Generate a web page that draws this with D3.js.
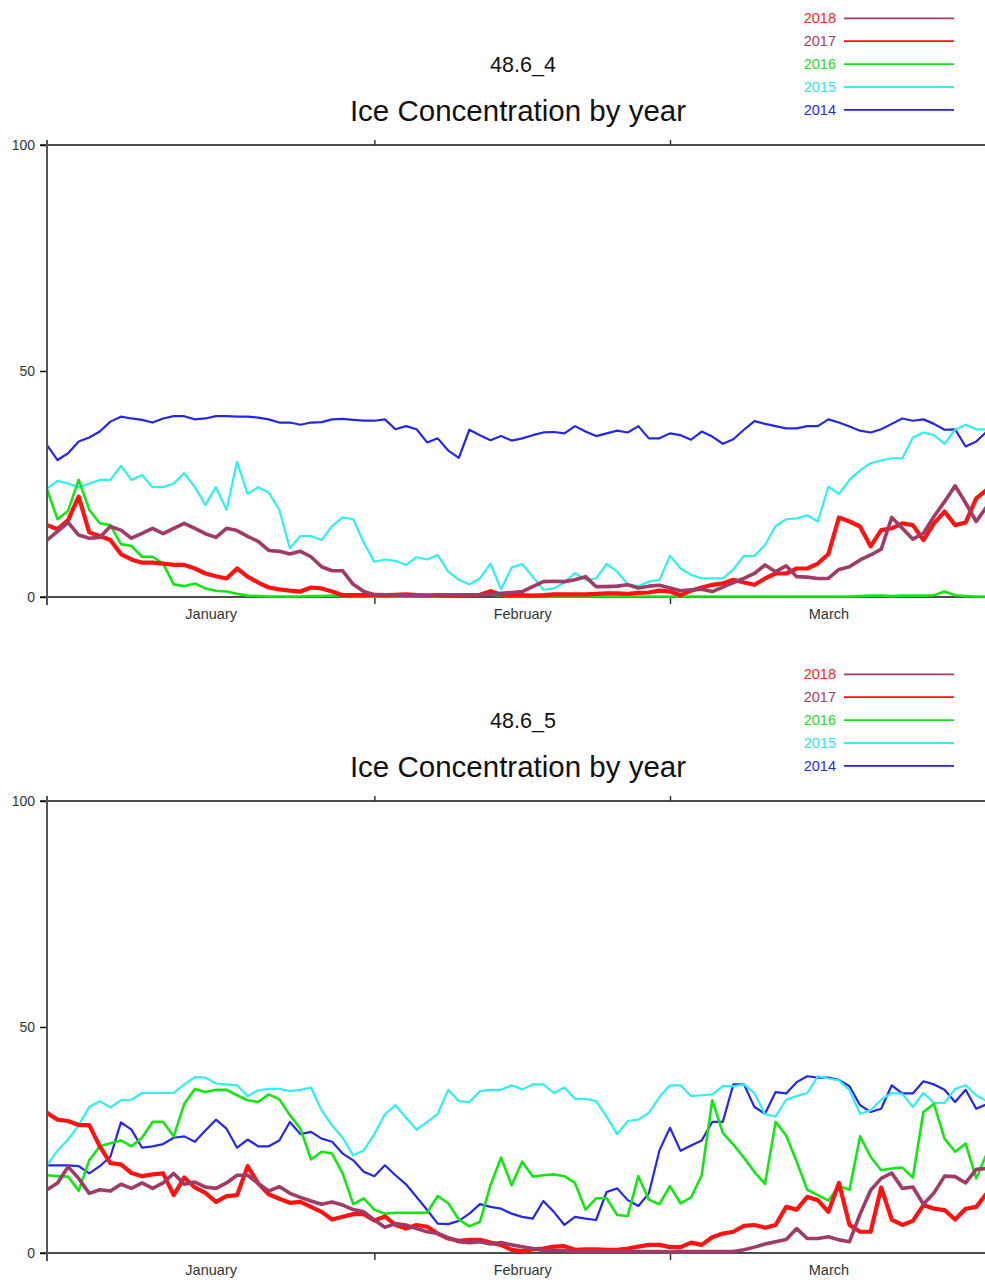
<!DOCTYPE html>
<html>
<head>
<meta charset="utf-8">
<script src="https://cdn.jsdelivr.net/npm/d3@7/dist/d3.min.js"></script>
<style>
  html, body { margin: 0; padding: 0; background: #fff; }
  svg { display: block; font-family: "Liberation Sans", Arial, sans-serif; }
</style>
</head>
<body>
<svg id="chart" width="985" height="1284"></svg>
<script>
// Daily ice concentration (%) for Jan 1 .. Mar 31, one value per day.
const years = [2018, 2017, 2016, 2015, 2014];
const monthNames = ["January", "February", "March"];
const monthStarts = [31, 59];          // day index of Feb 1 and Mar 1
const monthMids = [15.5, 45, 74];      // label positions (day index)
const yTicks = [0, 50, 100];

// ---- 48.6_4 ----
const area4_2014 = [33.6,30.3,31.8,34.4,35.3,36.6,38.8,39.9,39.5,39.2,
  38.6,39.5,40.0,40.0,39.3,39.5,40.0,40.0,39.9,39.9,
  39.7,39.3,38.6,38.6,38.1,38.6,38.7,39.3,39.4,39.2,
  39.0,39.0,39.3,37.1,37.8,37.1,34.2,35.1,32.4,30.8,
  37.0,35.8,34.7,35.6,34.6,35.1,35.8,36.4,36.5,36.2,
  37.8,36.6,35.6,36.2,36.8,36.4,37.8,35.1,35.1,36.2,
  35.8,34.8,36.6,35.5,33.9,34.9,37.0,38.9,38.3,37.8,
  37.3,37.3,37.8,37.8,39.3,38.6,37.7,36.8,36.4,37.1,
  38.3,39.5,39.0,39.3,38.3,37.0,37.1,33.3,34.4,36.6];
const area4_2015 = [24.0,25.7,25.1,24.3,25.1,25.9,25.9,29.0,25.9,27.0,
  24.3,24.3,25.1,27.4,24.3,20.4,24.3,19.3,29.9,22.8,
  24.3,23.1,19.3,10.8,13.5,13.5,12.6,15.7,17.6,17.2,
  12.0,7.8,8.3,8.0,7.1,8.8,8.3,9.3,5.6,3.8,
  2.8,4.1,7.4,1.7,6.5,7.3,4.5,1.6,1.9,3.2,
  5.3,3.8,4.1,7.3,5.6,2.8,2.4,3.4,3.8,9.1,
  6.3,4.9,4.1,4.1,4.1,6.1,9.1,9.1,11.5,15.7,
  17.2,17.4,18.1,16.7,24.4,22.8,25.9,28.0,29.6,30.2,
  30.7,30.7,35.3,36.4,35.8,33.9,37.0,38.1,37.1,37.1];
const area4_2016 = [23.8,17.2,19.1,25.9,19.3,16.3,15.9,11.7,11.3,8.9,
  8.9,7.4,2.8,2.4,3.0,1.9,1.4,1.2,0.7,0.3,
  0.2,0.1,0.1,0.1,0.1,0.2,0.2,0.3,0.2,0.1,
  0.1,0.1,0.1,0.1,0.1,0.1,0.1,0.1,0.1,0.2,
  0.3,0.5,0.6,0.3,0.1,0.1,0.1,0.1,0.1,0.1,
  0.1,0.1,0.1,0.1,0.1,0.1,0.1,0.1,0.1,0.1,
  0.1,0.1,0.1,0.1,0.1,0.1,0.1,0.1,0.1,0.1,
  0.1,0.1,0.1,0.1,0.1,0.1,0.1,0.2,0.3,0.3,
  0.2,0.3,0.3,0.3,0.4,1.2,0.4,0.2,0.1,0.1];
const area4_2017 = [15.9,15.0,17.0,22.2,14.3,13.5,12.6,9.5,8.3,7.6,
  7.6,7.4,7.1,7.1,6.3,5.2,4.6,4.1,6.3,4.5,
  3.2,2.1,1.7,1.4,1.2,2.1,1.9,1.2,0.4,0.4,
  0.4,0.5,0.4,0.5,0.6,0.4,0.3,0.4,0.3,0.3,
  0.4,0.5,1.3,0.5,0.4,0.4,0.3,0.4,0.6,0.6,
  0.6,0.6,0.7,0.8,0.8,0.7,0.9,1.0,1.4,1.2,
  0.4,1.4,2.1,2.7,3.0,3.8,3.2,2.7,4.1,5.2,
  5.2,6.3,6.3,7.4,9.5,17.6,16.7,15.6,11.2,14.8,
  15.2,16.3,15.9,12.6,16.3,18.9,15.9,16.5,21.8,23.7];
const area4_2018 = [12.6,14.5,16.5,13.7,13.0,13.2,15.6,14.8,13.0,14.1,
  15.2,14.0,15.2,16.3,15.2,14.0,13.2,15.2,14.7,13.4,
  12.3,10.3,10.1,9.5,10.1,8.9,6.7,5.8,5.8,2.8,
  1.2,0.5,0.5,0.4,0.4,0.4,0.4,0.4,0.5,0.5,
  0.5,0.5,0.6,0.8,1.0,1.2,2.3,3.4,3.5,3.4,
  3.8,4.5,2.3,2.3,2.4,2.7,2.0,2.4,2.6,2.0,
  1.4,1.6,1.7,1.2,2.2,3.2,4.1,5.2,7.1,5.6,
  6.9,4.5,4.4,4.1,4.1,6.1,6.7,8.2,9.3,10.6,
  17.6,15.2,12.8,14.1,17.8,21.1,24.6,20.8,16.7,20.0];

// ---- 48.6_5 ----
const area5_2014 = [19.4,19.4,19.4,19.2,17.6,19.2,21.3,28.9,27.3,23.3,
  23.6,24.1,25.5,25.8,24.6,27.1,29.5,27.5,23.3,25.1,
  23.6,23.6,24.9,29.0,26.3,26.8,25.3,24.6,22.0,20.5,
  18.0,17.0,19.4,17.2,15.2,12.4,9.5,6.5,6.4,7.1,
  8.7,10.8,10.2,9.8,8.7,8.0,7.6,11.5,9.1,6.2,
  8.0,7.6,7.3,13.5,14.3,11.7,10.4,13.2,22.7,27.7,
  22.6,23.8,24.9,29.0,29.0,37.3,37.3,32.3,30.8,35.6,
  35.3,37.8,39.1,38.8,38.8,38.3,36.9,32.7,31.2,31.9,
  37.1,35.3,35.3,38.0,37.3,36.1,33.4,36.1,31.9,32.9];
const area5_2015 = [19.4,22.7,25.1,28.3,32.3,33.6,32.2,33.8,33.9,35.4,
  35.4,35.4,35.4,37.3,38.9,38.8,37.5,37.3,37.1,34.7,
  36.0,36.3,36.3,35.8,36.1,36.6,31.6,28.2,25.5,21.6,
  22.7,26.3,30.7,32.7,29.9,27.3,29.0,30.8,36.1,33.6,
  33.4,35.8,36.1,36.1,37.1,36.2,37.3,37.3,35.4,36.6,
  34.1,34.1,33.6,30.1,26.3,29.2,29.5,31.0,34.5,37.1,
  37.1,34.7,34.9,35.1,36.9,36.9,37.3,35.3,30.7,30.2,
  33.9,34.7,35.4,39.1,38.6,38.2,36.0,30.8,31.6,33.9,
  35.4,35.2,32.3,35.4,33.2,33.2,36.3,37.1,34.9,33.6];
const area5_2016 = [17.2,17.0,16.9,13.8,20.5,23.6,24.3,24.9,23.6,25.5,
  29.0,29.0,25.8,33.0,36.3,35.6,36.1,36.1,34.9,33.8,
  33.4,35.1,34.0,30.5,27.5,20.7,22.4,22.0,17.6,10.8,
  12.1,9.6,8.7,8.9,8.9,8.9,8.9,12.6,11.0,7.4,
  5.9,6.9,15.0,21.1,15.0,20.2,16.9,17.2,17.4,17.0,
  15.5,9.6,12.1,12.1,8.4,8.2,17.0,11.8,10.8,14.8,
  11.0,12.3,17.2,33.8,26.6,24.0,21.1,17.9,15.3,29.0,
  26.0,20.2,14.0,12.8,11.6,14.8,14.0,25.8,21.3,18.3,
  18.7,18.9,16.7,31.2,33.0,25.3,22.4,24.2,16.5,22.0];
const area5_2017 = [31.0,29.5,29.2,28.3,28.3,23.6,19.9,19.6,17.7,17.0,
  17.4,17.6,12.8,16.7,14.5,13.3,11.3,12.6,12.8,19.2,
  15.4,13.0,12.0,11.1,11.3,10.2,9.1,7.4,8.0,8.6,
  8.6,7.2,8.1,6.2,5.4,6.2,5.8,4.3,3.2,2.7,
  2.9,2.9,2.3,1.8,0.7,0.4,0.8,1.0,1.4,1.5,
  0.7,0.8,0.8,0.7,0.7,1.0,1.4,1.8,1.8,1.3,
  1.3,2.3,1.8,3.5,4.3,4.7,6.0,6.2,5.6,6.2,
  10.2,9.6,12.4,11.7,9.1,15.5,6.2,4.7,4.7,14.5,
  7.4,6.2,7.1,10.6,9.8,9.5,7.4,9.8,10.2,13.2];
const area5_2018 = [14.0,15.5,19.1,16.5,13.2,14.0,13.7,15.2,14.3,15.5,
  14.3,15.5,17.6,15.2,15.7,14.6,14.3,15.5,17.2,17.2,
  15.4,13.7,14.7,13.2,12.3,11.5,10.8,11.3,10.6,9.6,
  9.1,7.3,5.7,6.5,6.2,5.4,4.7,4.3,3.4,2.5,
  2.3,2.5,2.0,2.3,1.8,1.4,1.0,0.5,0.6,0.5,
  0.3,0.3,0.3,0.3,0.3,0.3,0.3,0.3,0.3,0.2,
  0.3,0.3,0.3,0.3,0.3,0.3,0.7,1.3,2.0,2.5,
  3.0,5.4,3.2,3.2,3.6,2.9,2.5,8.6,13.9,16.5,
  17.7,14.3,14.6,10.8,13.3,17.0,16.9,15.5,18.5,18.7];

const panels = [
  { name: "48.6_4", top: 0,   series: { 2014: area4_2014, 2015: area4_2015, 2016: area4_2016, 2017: area4_2017, 2018: area4_2018 } },
  { name: "48.6_5", top: 656, series: { 2014: area5_2014, 2015: area5_2015, 2016: area5_2016, 2017: area5_2017, 2018: area5_2018 } }
];

// line styling per year; legend label colours differ slightly from line colours
const lineColor  = { 2014: "#2626e6", 2015: "#30efef", 2016: "#14e614", 2017: "#ff1212", 2018: "#a03a66" };
const labelColor = { 2014: "#2a2ae6", 2015: "#2ee8e8", 2016: "#22dd22", 2017: "#a0406a", 2018: "#ff2626" };
const lineWidth  = { 2014: 2.2, 2015: 2.2, 2016: 2.6, 2017: 4.2, 2018: 3.6 };
const drawOrder  = [2014, 2015, 2016, 2017, 2018];

const svg = d3.select("#chart");
const x = d3.scaleLinear().domain([0, 59]).range([47, 670]);

panels.forEach(p => {
  const g = svg.append("g").attr("transform", `translate(0,${p.top})`);
  const y = d3.scaleLinear().domain([0, 100]).range([597, 145]);

  // titles
  g.append("text").attr("x", 523).attr("y", 72).attr("text-anchor", "middle")
    .attr("font-size", 21.5).attr("fill", "#111").text(p.name);
  g.append("text").attr("x", 518).attr("y", 121).attr("text-anchor", "middle")
    .attr("font-size", 29.5).attr("fill", "#111").text("Ice Concentration by year");

  // legend
  years.forEach((yr, i) => {
    const ly = 18.3 + i * 22.9;
    g.append("text").attr("x", 836).attr("y", ly + 5).attr("text-anchor", "end")
      .attr("font-size", 14.5).attr("fill", labelColor[yr]).text(yr);
    g.append("line").attr("x1", 844).attr("x2", 954).attr("y1", ly).attr("y2", ly)
      .attr("stroke", lineColor[yr]).attr("stroke-width", 1.8);
  });

  // y axis (ticks + labels)
  const yAxis = d3.axisLeft(y).tickValues(yTicks).tickSize(7).tickSizeOuter(0).tickPadding(5);
  const ya = g.append("g").attr("transform", "translate(47,0)").call(yAxis);
  ya.select(".domain").remove();
  ya.selectAll(".tick line").attr("stroke", "#111").attr("stroke-width", 1.5);
  ya.selectAll(".tick text").attr("font-size", 14).attr("fill", "#333")
    .attr("font-family", "Liberation Sans, Arial, sans-serif");

  // frame: top and bottom rules
  g.append("line").attr("x1", 40).attr("x2", 985).attr("y1", y(100)).attr("y2", y(100))
    .attr("stroke", "#111").attr("stroke-width", 1.6);
  g.append("line").attr("x1", 40).attr("x2", 985).attr("y1", y(0)).attr("y2", y(0))
    .attr("stroke", "#111").attr("stroke-width", 1.6);

  // month boundary ticks (bottom and top)
  const xAxisB = d3.axisBottom(x).tickValues(monthStarts).tickFormat("").tickSize(7).tickSizeOuter(0);
  const xb = g.append("g").attr("transform", `translate(0,${y(0)})`).call(xAxisB);
  xb.select(".domain").remove();
  xb.selectAll(".tick line").attr("stroke", "#333").attr("stroke-width", 1.5);
  const xAxisT = d3.axisTop(x).tickValues(monthStarts).tickFormat("").tickSize(5).tickSizeOuter(0);
  const xt = g.append("g").attr("transform", `translate(0,${y(100)})`).call(xAxisT);
  xt.select(".domain").remove();
  xt.selectAll(".tick line").attr("stroke", "#333").attr("stroke-width", 1.5);

  // month labels
  const xAxisL = d3.axisBottom(x).tickValues(monthMids).tickFormat((d, i) => monthNames[i])
    .tickSize(0).tickPadding(12);
  const xl = g.append("g").attr("transform", `translate(0,${y(0)})`).call(xAxisL);
  xl.select(".domain").remove();
  xl.selectAll(".tick text").attr("font-size", 14.5).attr("fill", "#333")
    .attr("font-family", "Liberation Sans, Arial, sans-serif");

  // series
  const line = d3.line().x((d, i) => x(i)).y(d => y(d));
  drawOrder.forEach(yr => {
    g.append("path").datum(p.series[yr]).attr("d", line)
      .attr("fill", "none").attr("stroke", lineColor[yr])
      .attr("stroke-width", lineWidth[yr]).attr("stroke-linejoin", "round");
  });

  // left axis line
  g.append("line").attr("x1", 47).attr("x2", 47).attr("y1", 140).attr("y2", 605)
    .attr("stroke", "#555").attr("stroke-width", 2);
});
</script>
</body>
</html>
